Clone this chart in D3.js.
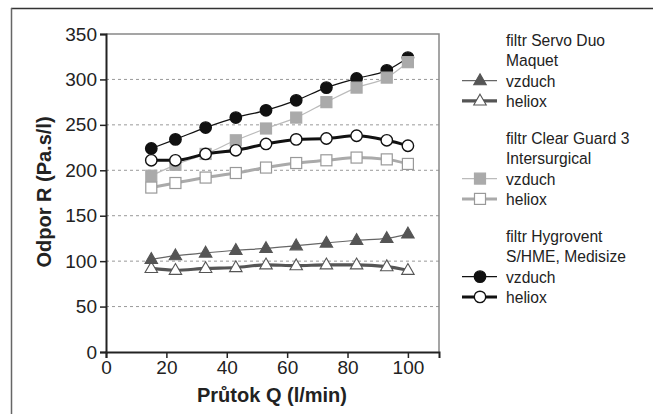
<!DOCTYPE html>
<html>
<head>
<meta charset="utf-8">
<script src="https://cdn.jsdelivr.net/npm/d3@7"></script>
<style>
  body { margin: 0; background: #fff; }
  svg { display: block; }
  .tick text { font-family: "Liberation Sans", Arial, sans-serif; font-size: 19px; fill: #222; }
  .legend text { font-family: "Liberation Sans", Arial, sans-serif; font-size: 17px; fill: #222; }
</style>
</head>
<body>
<div id="chart"></div>
<script>
// flow rates (l/min) shared by all series
const flow = [15, 23, 33, 43, 53, 63, 73, 83, 93, 100];

// resistance values (Pa.s/l)
const servoAir = [102, 106, 109, 112, 114, 117, 120, 123, 125, 130];
const servoHeliox = [92, 90, 92, 93, 96, 95, 96, 96, 94, 90];
const clearAir = [194, 206, 218, 233, 246, 258, 275, 291, 302, 319];
const clearHeliox = [181, 186, 192, 197, 203, 208, 211, 214, 212, 207];
const hygroAir = [224, 234, 247, 258, 266, 277, 291, 301, 310, 324];
const hygroHeliox = [211, 211, 218, 222, 229, 234, 235, 238, 233, 227];

const yTicks = [0, 50, 100, 150, 200, 250, 300, 350];
const xTicks = [0, 20, 40, 60, 80, 100];

const W = 653, H = 416;
const PLOT = { left: 106, right: 439, top: 34, bottom: 352 };

const x = d3.scaleLinear().domain([0, 110.3]).range([PLOT.left, PLOT.right]);
const y = d3.scaleLinear().domain([0, 350]).range([PLOT.bottom, PLOT.top]);

// draw order matters: later series sit on top
const series = [
  { name: 'servoHeliox', values: servoHeliox, line: '#555', lw: 3.2, shape: 'tri', fill: '#fff', stroke: '#555' },
  { name: 'servoAir', values: servoAir, line: '#666', lw: 1.2, shape: 'tri', fill: '#555', stroke: '#555' },
  { name: 'hygroAir', values: hygroAir, line: '#111', lw: 1.2, shape: 'circle', fill: '#111', stroke: '#111' },
  { name: 'clearAir', values: clearAir, line: '#bbb', lw: 1.2, shape: 'square', fill: '#aaa', stroke: '#aaa' },
  { name: 'hygroHeliox', values: hygroHeliox, line: '#111', lw: 3, shape: 'circle', fill: '#fff', stroke: '#111' },
  { name: 'clearHeliox', values: clearHeliox, line: '#aaa', lw: 3, shape: 'square', fill: '#fff', stroke: '#999' },
];

function drawMarker(g, shape, cx, cy, fill, stroke) {
  if (shape === 'circle') {
    g.append('circle').attr('cx', cx).attr('cy', cy).attr('r', 5.7)
      .attr('fill', fill).attr('stroke', stroke).attr('stroke-width', 1.4);
  } else if (shape === 'square') {
    g.append('rect').attr('x', cx - 5.5).attr('y', cy - 5.5).attr('width', 11).attr('height', 11)
      .attr('fill', fill).attr('stroke', stroke).attr('stroke-width', 1.2);
  } else {
    const s = 12.5, h = s * 0.87;
    g.append('path')
      .attr('d', `M${cx},${cy - h * 0.62}L${cx + s / 2},${cy + h * 0.38}L${cx - s / 2},${cy + h * 0.38}Z`)
      .attr('fill', fill).attr('stroke', stroke).attr('stroke-width', 1.1);
  }
}

function legendText(g, ty, label) {
  g.append('text')
    .attr('transform', `translate(506,${ty}) scale(0.92,1)`)
    .attr('dy', '0.35em')
    .text(label);
}

function createChart() {
  const svg = d3.select('#chart').append('svg').attr('width', W).attr('height', H);

  // outer frame (top and left edges are visible)
  svg.append('line').attr('x1', 11).attr('x2', W).attr('y1', 8.5).attr('y2', 8.5)
    .attr('stroke', '#333').attr('stroke-width', 1.5);
  svg.append('line').attr('x1', 11.5).attr('x2', 11.5).attr('y1', 8).attr('y2', 414)
    .attr('stroke', '#666').attr('stroke-width', 1.5);

  // grid
  svg.append('g').selectAll('line')
    .data(yTicks.filter(t => t > 0 && t < 350))
    .enter().append('line')
    .attr('x1', PLOT.left).attr('x2', PLOT.right)
    .attr('y1', d => y(d)).attr('y2', d => y(d))
    .attr('stroke', '#999').attr('stroke-width', 1).attr('stroke-dasharray', '3,3');

  // plot frame top and right
  svg.append('path')
    .attr('d', `M${PLOT.left},${y(350)}H${PLOT.right}V${PLOT.bottom}`)
    .attr('fill', 'none').attr('stroke', '#888').attr('stroke-width', 1.5);

  // axes
  const yAxis = d3.axisLeft(y).tickValues(yTicks).tickSize(6).tickPadding(3);
  const gy = svg.append('g').attr('transform', `translate(${PLOT.left},0)`).call(yAxis);
  gy.select('.domain').attr('stroke', '#222').attr('stroke-width', 2);
  gy.selectAll('.tick line').attr('stroke', '#222').attr('stroke-width', 1.5);

  const xAxis = d3.axisBottom(x).tickValues(xTicks).tickSize(6).tickPadding(3);
  const gx = svg.append('g').attr('transform', `translate(0,${PLOT.bottom})`).call(xAxis);
  gx.select('.domain').attr('stroke', '#222').attr('stroke-width', 2);
  gx.selectAll('.tick line').attr('stroke', '#222').attr('stroke-width', 1.5);

  // axis titles
  svg.append('text')
    .attr('transform', `translate(51,192) rotate(-90)`)
    .attr('text-anchor', 'middle')
    .style('font-family', '"Liberation Sans", Arial, sans-serif')
    .style('font-size', '20px').style('font-weight', 'bold').style('fill', '#222')
    .text('Odpor R (Pa.s/l)');
  svg.append('text')
    .attr('x', 272).attr('y', 402)
    .attr('text-anchor', 'middle')
    .style('font-family', '"Liberation Sans", Arial, sans-serif')
    .style('font-size', '20px').style('font-weight', 'bold').style('fill', '#222')
    .text('Průtok Q (l/min)');

  // series
  const line = d3.line().x((d, i) => x(flow[i])).y(d => y(d)).curve(d3.curveMonotoneX);
  series.forEach(s => {
    const g = svg.append('g');
    g.append('path').attr('d', line(s.values))
      .attr('fill', 'none').attr('stroke', s.line).attr('stroke-width', s.lw)
      .attr('stroke-linejoin', 'round');
    s.values.forEach((v, i) => drawMarker(g, s.shape, x(flow[i]), y(v), s.fill, s.stroke));
  });

  // legend
  const byName = Object.fromEntries(series.map(s => [s.name, s]));
  const legendGroups = [
    { title: ['filtr Servo Duo', 'Maquet'], items: ['servoAir', 'servoHeliox'], top: 40 },
    { title: ['filtr Clear Guard 3', 'Intersurgical'], items: ['clearAir', 'clearHeliox'], top: 138 },
    { title: ['filtr Hygrovent', 'S/HME, Medisize'], items: ['hygroAir', 'hygroHeliox'], top: 236 },
  ];
  const lg = svg.append('g').attr('class', 'legend');
  legendGroups.forEach(grp => {
    grp.title.forEach((t, i) => legendText(lg, grp.top + i * 20, t));
    grp.items.forEach((name, i) => {
      const s = byName[name];
      const cy = grp.top + (i + 2) * 20.3;
      lg.append('line').attr('x1', 462).attr('x2', 497).attr('y1', cy).attr('y2', cy)
        .attr('stroke', s.line).attr('stroke-width', s.lw);
      drawMarker(lg, s.shape, 480, cy, s.fill, s.stroke);
      legendText(lg, cy, name.endsWith('Air') ? 'vzduch' : 'heliox');
    });
  });
}

document.addEventListener('DOMContentLoaded', createChart);
</script>
</body>
</html>
